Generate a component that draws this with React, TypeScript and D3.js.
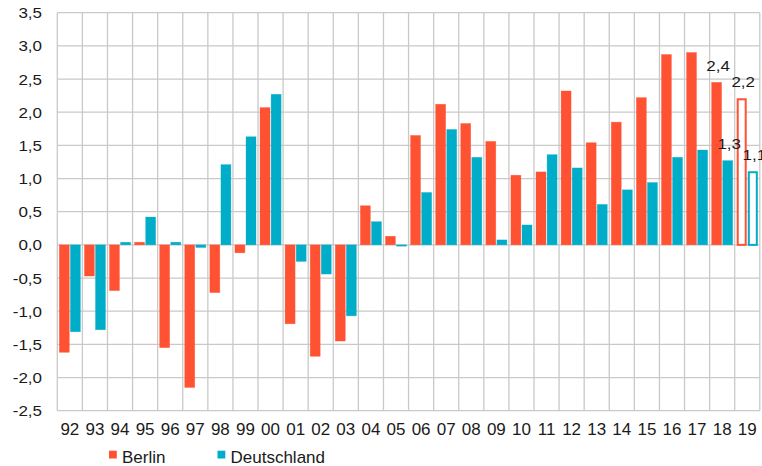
import React from "react";
import * as d3 from "d3";

const years = ["92","93","94","95","96","97","98","99","00","01","02","03","04","05","06","07","08","09","10","11","12","13","14","15","16","17","18","19"];
const berlin = [-1.62,-0.47,-0.69,0.04,-1.55,-2.15,-0.72,-0.12,2.07,-1.19,-1.68,-1.45,0.59,0.13,1.65,2.12,1.83,1.56,1.05,1.10,2.32,1.54,1.85,2.22,2.87,2.90,2.45,2.21];
const deutschland = [-1.31,-1.28,0.04,0.42,0.04,-0.04,1.21,1.63,2.27,-0.25,-0.44,-1.07,0.35,-0.02,0.79,1.74,1.32,0.075,0.30,1.36,1.16,0.61,0.83,0.94,1.32,1.43,1.27,1.11];
const forecastYears = ["19"];
const dataLabels = [
  { year: "18", series: "Berlin", text: "2,4" },
  { year: "18", series: "Deutschland", text: "1,3" },
  { year: "19", series: "Berlin", text: "2,2" },
  { year: "19", series: "Deutschland", text: "1,1" },
];
const yTicks = [-2.5,-2,-1.5,-1,-0.5,0,0.5,1,1.5,2,2.5,3,3.5];
const seriesNames = ["Berlin","Deutschland"];
const colors: Record<string,string> = { Berlin: "#ff5233", Deutschland: "#00adc9" };

const W = 762, H = 466;
const left = 57.3, right = 759.8, top = 12.7, bottom = 410.7;
const font = "Liberation Sans, Arial, sans-serif";

export default function App() {
  const x0 = d3.scaleBand<string>().domain(years).range([left, right]).padding(0);
  const x1 = d3.scaleBand<string>().domain(seriesNames).range([0, x0.bandwidth()]).paddingInner(0.1).paddingOuter(0.18);
  const y = d3.scaleLinear().domain([-2.5, 3.5]).range([bottom, top]);
  const fmt = (v: number) => d3.format(".1f")(v).replace(".", ",").replace("−", "-");
  const values: Record<string, number[]> = { Berlin: berlin, Deutschland: deutschland };

  const bars: any[] = [];
  years.forEach((yr, i) => {
    seriesNames.forEach((s) => {
      const v = values[s][i];
      const bx = (x0(yr) as number) + (x1(s) as number);
      const bw = x1.bandwidth();
      const y0 = y(0), yv = y(v);
      const isF = forecastYears.includes(yr);
      if (isF) {
        bars.push(
          <rect key={yr + s} x={bx + 1} y={Math.min(y0, yv) + 1} width={bw - 2} height={Math.abs(y0 - yv) - 1}
            fill="#ffffff" stroke={colors[s]} strokeWidth={2} />
        );
      } else {
        bars.push(
          <rect key={yr + s} x={bx} y={Math.min(y0, yv)} width={bw} height={Math.max(1, Math.abs(y0 - yv))}
            fill={colors[s]} stroke={colors[s]} strokeOpacity={0.5} strokeWidth={0.6} />
        );
      }
    });
  });

  return (
    <div style={{ position: "absolute", left: 0, top: 0 }}>
      <svg width={W} height={H} style={{ display: "block", background: "#fff" }}>
        {yTicks.map((t) => (
          <line key={"h" + t} x1={left} x2={right} y1={y(t)} y2={y(t)} stroke="#c9c9c9" strokeWidth={1.3} />
        ))}
        {years.map((yr) => (
          <line key={"v" + yr} x1={x0(yr) as number} x2={x0(yr) as number} y1={top} y2={bottom} stroke="#c9c9c9" strokeWidth={1.3} />
        ))}
        <line x1={right} x2={right} y1={top} y2={bottom} stroke="#c9c9c9" strokeWidth={1.3} />
        {bars}
        {yTicks.map((t) => (
          <text key={"yt" + t} transform={`translate(42,${y(t) + 5.5}) scale(1,0.82)`} textAnchor="end"
            fontFamily={font} fontSize={17} fill="#1a1a1a">{fmt(t)}</text>
        ))}
        {years.map((yr) => (
          <text key={"xt" + yr} x={(x0(yr) as number) + x0.bandwidth() / 2} y={435} textAnchor="middle"
            fontFamily={font} fontSize={17} fill="#1a1a1a">{yr}</text>
        ))}
        {dataLabels.map((d) => {
          const i = years.indexOf(d.year);
          const v = values[d.series][i];
          const cx = (x0(d.year) as number) + (x1(d.series) as number) + x1.bandwidth() / 2 + 1.5;
          return (
            <text key={"dl" + d.year + d.series} transform={`translate(${cx},${y(v) - 11.5}) scale(1,0.88)`}
              textAnchor="middle" fontFamily={font} fontSize={17} fill="#1a1a1a">{d.text}</text>
          );
        })}
        <rect x={109} y={450.7} width={7.8} height={7.8} fill={colors.Berlin} />
        <text x={122} y={462.5} fontFamily={font} fontSize={17} fill="#1a1a1a">Berlin</text>
        <rect x={217.5} y={450.7} width={7.8} height={7.8} fill={colors.Deutschland} />
        <text x={230.5} y={462.5} fontFamily={font} fontSize={17} fill="#1a1a1a">Deutschland</text>
      </svg>
    </div>
  );
}
